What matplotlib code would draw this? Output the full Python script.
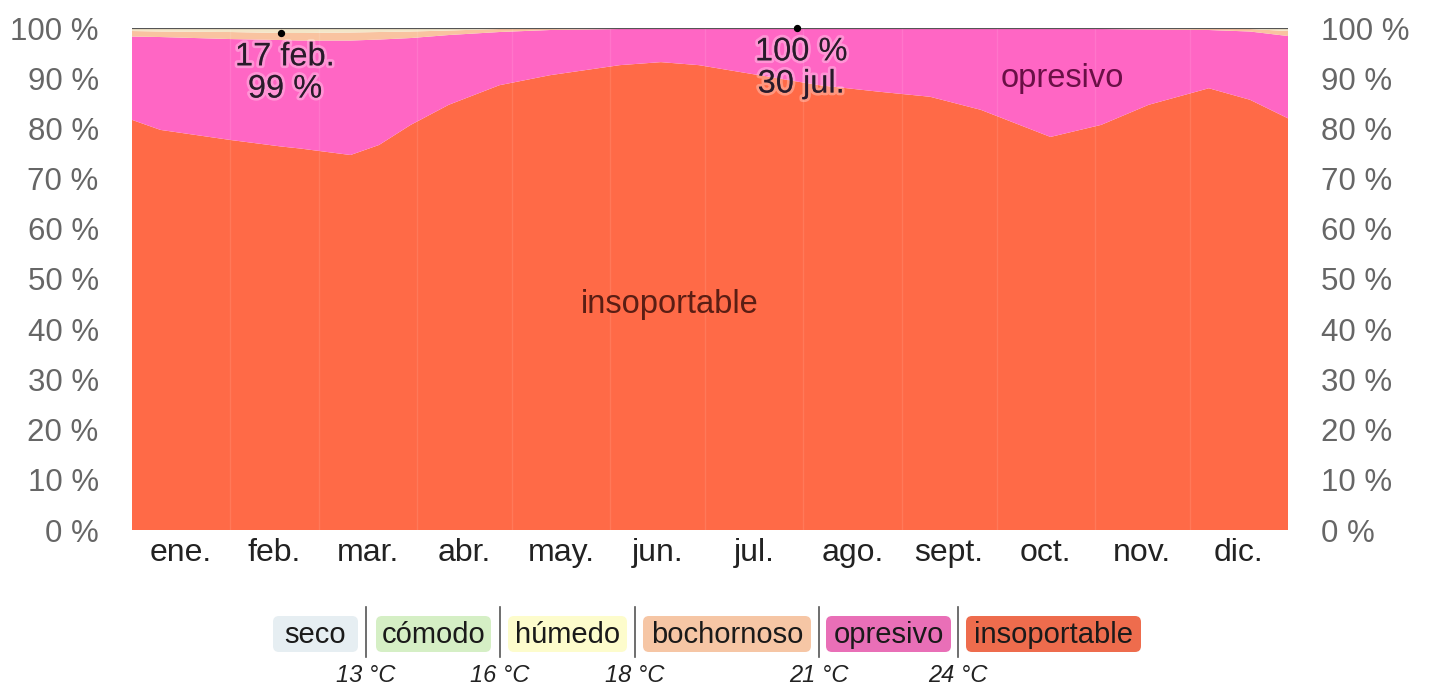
import matplotlib
matplotlib.use("Agg")
import matplotlib.pyplot as plt
import matplotlib.patheffects as pe
from matplotlib.patches import FancyBboxPatch
import numpy as np

plt.rcParams['font.family'] = ['Liberation Sans', 'DejaVu Sans']

# ---------------- data ----------------
months = ['ene.', 'feb.', 'mar.', 'abr.', 'may.', 'jun.', 'jul.', 'ago.', 'sept.', 'oct.', 'nov.', 'dic.']
month_days = [31, 28, 31, 30, 31, 30, 31, 31, 30, 31, 30, 31]

days = [0, 9, 31, 47, 53, 69, 78, 88, 100, 116, 132, 154, 167, 179, 198, 217, 236, 252, 268, 290, 306, 321, 340, 353, 365]
insoportable = [81.7, 79.7, 77.7, 76.4, 76.0, 74.7, 76.7, 80.7, 84.7, 88.6, 90.6, 92.6, 93.2, 92.6, 90.6, 88.6, 87.3, 86.3, 83.7, 78.3, 80.7, 84.7, 88.0, 85.7, 82.0]
opresivo = [16.6, 18.5, 20.1, 21.2, 21.5, 22.8, 21.0, 17.3, 13.9, 10.6, 9.0, 7.2, 6.7, 7.3, 9.3, 11.3, 12.6, 13.6, 16.2, 21.6, 19.1, 15.0, 11.6, 13.6, 16.4]
bochornoso = [1.1, 1.1, 1.4, 1.4, 1.5, 1.6, 1.5, 1.3, 0.9, 0.6, 0.3, 0.2, 0.1, 0.1, 0.1, 0.1, 0.1, 0.1, 0.1, 0.1, 0.2, 0.25, 0.3, 0.5, 1.0]
humedo = [0.6, 0.7, 0.8, 1.0, 1.0, 0.9, 0.8, 0.7, 0.5, 0.2, 0.1, 0.0, 0.0, 0.0, 0.0, 0.0, 0.0, 0.0, 0.0, 0.0, 0.0, 0.05, 0.1, 0.2, 0.6]

annot_days = [47, 210]
annot_values = [99, 100]
annot_texts = ['17 feb.\n99 %', '100 %\n30 jul.']

yticks = list(range(0, 101, 10))
ytick_labels = [f'{v} %' for v in yticks]

legend_labels = ['seco', 'cómodo', 'húmedo', 'bochornoso', 'opresivo', 'insoportable']
threshold_labels = ['13 °C', '16 °C', '18 °C', '21 °C', '24 °C']

# ---------------- styles ----------------
c_insop = '#ff6a47'
c_opres = '#ff66c4'
c_boch = '#f9c3a0'
c_hum = '#f3e6c8'
legend_colors = ['#e6eef2', '#d5efc5', '#fdfccc', '#f6c6a5', '#e96fb7', '#ee6c4d']

W, H = 1429, 686
fig = plt.figure(figsize=(W / 100, H / 100), dpi=100)
ax = fig.add_axes([132 / W, 156 / H, 1156 / W, 502 / H])

ax.stackplot(days, insoportable, opresivo, bochornoso, humedo,
             colors=[c_insop, c_opres, c_boch, c_hum], linewidth=0)

ax.set_xlim(0, 365)
ax.set_ylim(0, 100)

# month boundaries (faint grid)
edges = np.cumsum([0] + month_days)
for e in edges[1:-1]:
    ax.axvline(e, color='white', alpha=0.10, lw=1, zorder=3)
ax.axhline(100, color='#555555', lw=1.6, zorder=4)

centers = edges[:-1] + np.array(month_days) / 2
ax.set_xticks(centers)
ax.set_xticklabels(months, fontsize=23, color='#222222')
ax.set_yticks(yticks)
ax.set_yticklabels(ytick_labels, fontsize=22.5, color='#666666')
ax.tick_params(axis='x', length=0, pad=6)
ax.tick_params(axis='y', length=0, pad=24, labelright=True, labelleft=True)
for s in ax.spines.values():
    s.set_visible(False)

halo = [pe.withStroke(linewidth=4, foreground=(1, 1, 1, 0.3))]
ax.scatter(annot_days, annot_values, s=18, color='black', zorder=6, clip_on=False)
for d, v, t in zip(annot_days, annot_values, annot_texts):
    ax.annotate(t, (d, v), xytext=(3, -6), textcoords='offset points',
                ha='center', va='top', fontsize=23.5, color='#2a1a2a',
                linespacing=1.05, path_effects=halo, zorder=7)

ax.text(0.465, 45, 'insoportable', transform=ax.get_yaxis_transform(),
        ha='center', va='center', fontsize=23.5, color='#5a1e14')
ax.text(0.805, 90, 'opresivo', transform=ax.get_yaxis_transform(),
        ha='center', va='center', fontsize=23.5, color='#6a1046')

# ---------------- legend ----------------
lax = fig.add_axes([0, 0, 1, 1])
lax.set_xlim(0, W)
lax.set_ylim(H, 0)
lax.axis('off')
box_spans = [(273, 358), (376, 491), (508, 627), (643, 811), (826, 951), (966, 1141)]
sep_x = [366, 500, 635, 819, 958]
for (x0, x1), lab, col in zip(box_spans, legend_labels, legend_colors):
    lax.add_patch(FancyBboxPatch((x0, 616), x1 - x0, 36,
                                 boxstyle='round,pad=0,rounding_size=6',
                                 facecolor=col, edgecolor='none'))
    lax.text((x0 + x1) / 2, 635, lab, ha='center', va='center',
             fontsize=21, color='#1a1a1a')
for x, lab in zip(sep_x, threshold_labels):
    lax.plot([x, x], [607, 657], color='#555555', lw=1.2)
    lax.text(x, 676, lab, ha='center', va='center', fontsize=17,
             style='italic', color='#222222')

fig.savefig('out.png', dpi=100)
